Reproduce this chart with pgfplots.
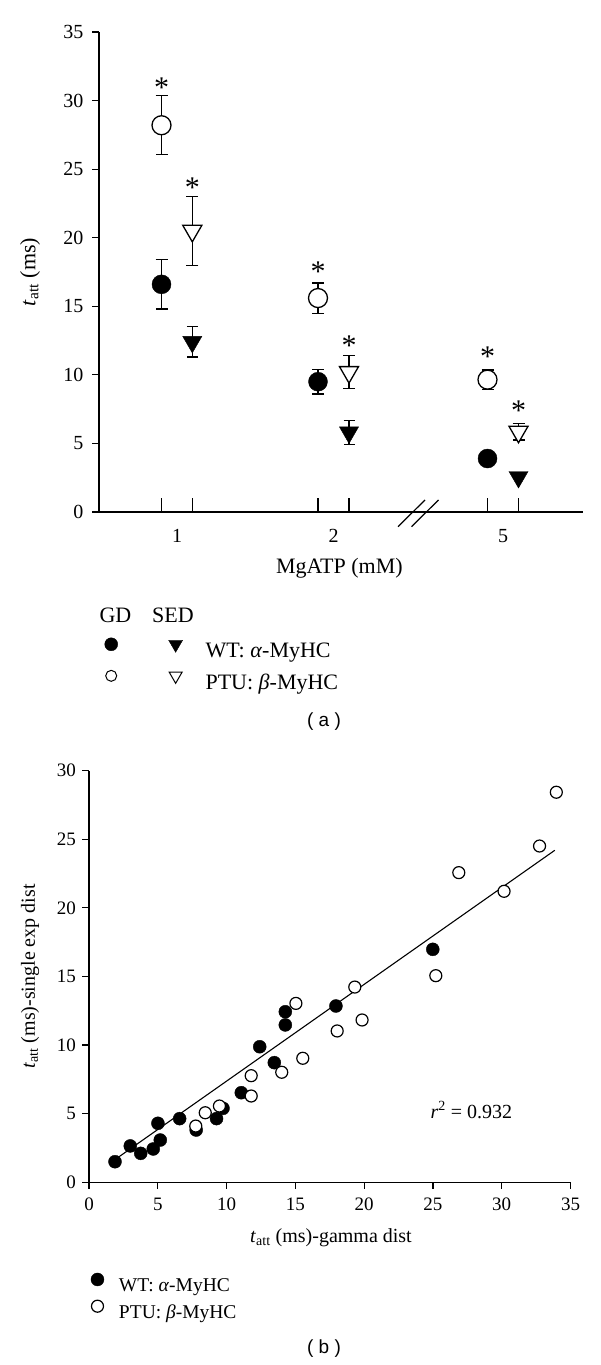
\documentclass[border=0pt]{standalone}
\usepackage{fontspec}
\setmainfont{Liberation Serif}
\newfontfamily\sansf{Liberation Sans}
\usepackage{pgfplots}
\usepackage{pgfplotstable}
\pgfplotsset{compat=1.18}

% Panel (a): x = position along the axis (group 1, 2, 5)
\pgfplotstableread{
x y e
62.5 16.6 1.8
219 9.5 0.9
388.5 3.9 0
}\wtgd
\pgfplotstableread{
x y e
62.5 28.2 2.15
219 15.6 1.1
388.5 9.65 0.7
}\ptugd
\pgfplotstableread{
x y e
93.3 12.4 1.1
250 5.8 0.85
419.5 2.55 0
}\wtsed
\pgfplotstableread{
x y e
93.3 20.5 2.5
250 10.2 1.2
419.5 5.85 0.6
}\ptused

% Panel (b)
\pgfplotstableread{
x y
1.89 1.50
3.00 2.65
3.76 2.11
4.67 2.43
5.18 3.08
5.01 4.30
6.59 4.64
7.79 3.81
9.27 4.64
9.74 5.39
11.07 6.53
12.41 9.88
13.47 8.72
14.27 12.43
14.27 11.47
17.95 12.85
24.99 16.98
}\wtsc
\pgfplotstableread{
x y
7.76 4.10
8.45 5.07
9.48 5.56
11.79 6.29
11.79 7.77
14.01 8.02
15.54 9.04
15.04 13.04
18.04 11.03
19.85 11.83
19.32 14.23
25.21 15.06
26.88 22.57
30.17 21.21
32.75 24.51
33.97 28.43
}\ptusc

\begin{document}
\begin{tikzpicture}[x=1pt,y=1pt]

% ---------------- Panel (a) ----------------
\begin{axis}[
  at={(99pt,853pt)}, anchor=origin, scale only axis,
  width=483.7pt, height=480pt,
  xmin=0, xmax=483.7, ymin=0, ymax=35,
  axis x line*=bottom, axis y line*=left,
  axis line style={line width=1.2pt, black},
  clip=false,
  tick align=outside, major tick length=7pt,
  every tick/.style={line width=1.2pt, black},
  ytick={0,5,...,35},
  xtick={78,234.5,404}, xticklabels={1,2,5},
  x tick style={draw=none},
  extra x ticks={62.5,93.3,219,250,388.5,419.5},
  extra x tick labels={},
  extra x tick style={x tick style={draw=black, line width=1.2pt}, tick align=inside, major tick length=14pt},
  /pgf/number format/assume math mode=true,
  tick label style={font=\fontsize{20}{24}\selectfont},
  yticklabel style={xshift=-5pt},
  xticklabel style={yshift=-7pt},
  xlabel={MgATP (mM)},
  ylabel={\textit{t}\textsubscript{att} (ms)},
  label style={font=\fontsize{22}{26}\selectfont},
  xlabel style={at={(axis description cs:0.497,-0.1173)}, anchor=center},
  ylabel style={at={(axis description cs:-0.1427,0.5)}, anchor=center},
  legend columns=2,
  legend cell align=left,
  legend image code/.code={\draw[#1] plot coordinates {(0pt,7pt)};},
  legend style={draw=none, fill=none, font=\fontsize{22}{26}\selectfont,
    at={(axis description cs:0.0052,-0.2575)}, anchor=north west,
    nodes={inner sep=0pt}, row sep=11pt,
    /tikz/column 1/.style={column sep=0pt},
    /tikz/column 2/.style={column sep=50pt},
    /tikz/column 3/.style={column sep=23pt}},
]
% error bars
\addplot[only marks, mark=none, forget plot, error bars/.cd, y dir=both, y explicit,
  error bar style={line width=1.2pt, black},
  error mark options={rotate=90, mark size=6pt, line width=1.2pt, black}]
  table[x=x, y=y, y error=e] {\ptugd};
\addplot[only marks, mark=none, forget plot, error bars/.cd, y dir=both, y explicit,
  error bar style={line width=1.2pt, black},
  error mark options={rotate=90, mark size=6pt, line width=1.2pt, black}]
  table[x=x, y=y, y error=e] {\wtgd};
\addplot[only marks, mark=none, forget plot, error bars/.cd, y dir=both, y explicit,
  error bar style={line width=1.2pt, black},
  error mark options={rotate=90, mark size=6pt, line width=1.2pt, black}]
  table[x=x, y=y, y error=e] {\ptused};
\addplot[only marks, mark=none, forget plot, error bars/.cd, y dir=both, y explicit,
  error bar style={line width=1.2pt, black},
  error mark options={rotate=90, mark size=5.5pt, line width=1.2pt, black}]
  table[x=x, y=y, y error=e] {\wtsed};
% markers
\addplot[only marks, forget plot, mark=*, mark size=9.5pt, mark options={fill=black, draw=black}]
  table[x=x, y=y] {\wtgd};
\addplot[only marks, forget plot, mark=*, mark size=9.5pt, mark options={fill=white, draw=black, line width=1.3pt}]
  table[x=x, y=y] {\ptugd};
\addplot[only marks, forget plot, mark=triangle*, mark size=11pt, mark options={rotate=180, fill=black, draw=black}]
  table[x=x, y=y] {\wtsed};
\addplot[only marks, forget plot, mark=triangle*, mark size=11pt, mark options={rotate=180, fill=white, draw=black, line width=1.3pt}]
  table[x=x, y=y] {\ptused};
% asterisks
\begin{scope}[every node/.style={font=\fontsize{30}{34}\selectfont, inner sep=0pt}]
\node at (axis cs:62.5,30.95) {*};
\node at (axis cs:93.3,23.65) {*};
\node at (axis cs:219,17.55) {*};
\node at (axis cs:250,12.15) {*};
\node at (axis cs:388.5,11.35) {*};
\node at (axis cs:419.5,7.4) {*};
\end{scope}
% axis break
\draw[line width=1.2pt] (axis cs:299,-1.07) -- (axis cs:326,0.875);
\draw[line width=1.2pt] (axis cs:312.5,-1.07) -- (axis cs:339.5,0.875);
% legend
\addlegendimage{black, only marks, mark=*, mark size=6.5pt}
\addlegendentry{}
\addlegendimage{black, only marks, mark=triangle*, mark size=8pt, mark options={rotate=180}}
\addlegendentry{WT: \textit{α}-MyHC}
\addlegendimage{black, only marks, mark=*, mark size=5.5pt, mark options={fill=white, line width=1pt}}
\addlegendentry{}
\addlegendimage{black, only marks, mark=triangle*, mark size=7.5pt, mark options={rotate=180, fill=white, line width=1pt}}
\addlegendentry{PTU: \textit{β}-MyHC}
\end{axis}
\node[font=\fontsize{22}{26}\selectfont] at (115.4,750) {GD};
\node[font=\fontsize{22}{26}\selectfont] at (173,750) {SED};
\node[font=\sansf\fontsize{19}{23}\selectfont] at (324,643.3) {( a )};

% ---------------- Panel (b) ----------------
\begin{axis}[
  at={(89pt,182.7pt)}, anchor=origin, scale only axis,
  width=481.5pt, height=411.6pt,
  xmin=0, xmax=35, ymin=0, ymax=30,
  axis x line*=bottom, axis y line*=left,
  axis line style={line width=1.2pt, black},
  clip=false,
  tick align=outside, major tick length=6.5pt,
  every tick/.style={line width=1.2pt, black},
  xtick={0,5,...,35}, ytick={0,5,...,30},
  /pgf/number format/assume math mode=true,
  tick label style={font=\fontsize{19}{23}\selectfont},
  yticklabel style={xshift=-3pt},
  xticklabel style={yshift=-6pt},
  xlabel={\textit{t}\textsubscript{att} (ms)-gamma dist},
  ylabel={\textit{t}\textsubscript{att} (ms)-single exp dist},
  label style={font=\fontsize{20}{24}\selectfont},
  xlabel style={at={(axis description cs:0.5026,-0.1336)}, anchor=center},
  ylabel style={at={(axis description cs:-0.1225,0.5)}, anchor=center},
  legend image code/.code={\draw[#1] plot coordinates {(0pt,6.5pt)};},
  legend cell align=left,
  legend style={draw=none, fill=none, font=\fontsize{19.5}{23}\selectfont,
    at={(axis description cs:-0.0025,-0.2150)}, anchor=north west,
    nodes={inner sep=0pt}, row sep=7pt,
    /tikz/column 1/.style={column sep=15pt}},
]
\addplot[black, line width=1.1pt, forget plot] coordinates {(1.67,1.5) (33.86,24.2)};
\addplot[only marks, mark=*, mark size=6.5pt, mark options={fill=black, draw=black}]
  table[x=x, y=y] {\wtsc};
\addlegendentry{WT: \textit{α}-MyHC}
\addplot[only marks, mark=*, mark size=6pt, mark options={fill=white, draw=black, line width=1.2pt}]
  table[x=x, y=y] {\ptusc};
\addlegendentry{PTU: \textit{β}-MyHC}
\node[font=\fontsize{20}{24}\selectfont] at (axis cs:27.8,5.27) {\textit{r}\textsuperscript{2} = 0.932};
\end{axis}
\node[font=\sansf\fontsize{19}{23}\selectfont] at (324,16.7) {( b )};
\path (0,0) rectangle (600,1365);
\end{tikzpicture}
\end{document}
